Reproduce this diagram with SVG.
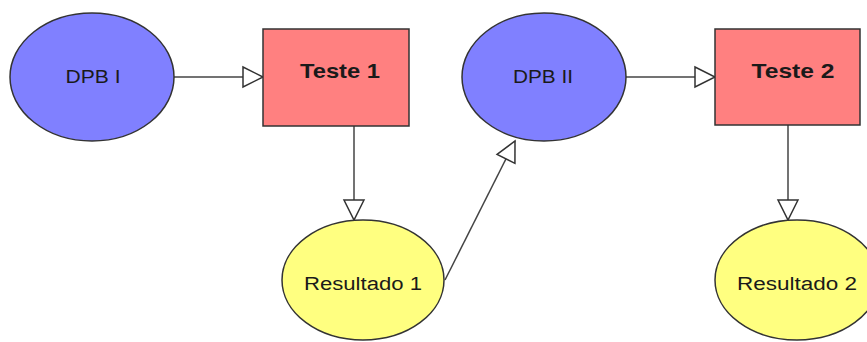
<svg xmlns="http://www.w3.org/2000/svg" width="867" height="342" viewBox="0 0 867 342">
<style>
.ell-blue{fill:#8080ff;stroke:#333;stroke-width:1.5}
.ell-yel{fill:#ffff80;stroke:#333;stroke-width:1.5}
.box{fill:#ff8080;stroke:#333;stroke-width:1.5}
.lbl{font-family:"Liberation Sans",Arial,sans-serif;font-size:18px;fill:#1a1a1a;text-anchor:middle}
.bold{font-weight:bold;font-size:21px}
.edge{stroke:#444;stroke-width:1.5;fill:none;marker-end:url(#tri)}
</style>
<defs>
<marker id="tri" markerUnits="userSpaceOnUse" markerWidth="24" markerHeight="24" viewBox="-2 -2 24 24" refX="20" refY="10" orient="auto">
<path d="M0,0 L20,10 L0,20 Z" fill="#fff" stroke="#333" stroke-width="1.5"/>
</marker>
</defs>
<rect width="867" height="342" fill="#fff"/>
<g id="connectors">
<line class="edge" x1="174" y1="77" x2="263" y2="77"/>
<line class="edge" x1="354" y1="126" x2="354" y2="220"/>
<line class="edge" x1="445" y1="280" x2="515" y2="141"/>
<line class="edge" x1="626" y1="77" x2="715" y2="77"/>
<line class="edge" x1="788" y1="125" x2="788" y2="220"/>
</g>
<g id="dpb1">
<ellipse class="ell-blue" cx="92" cy="77" rx="82" ry="64"/>
<text class="lbl" x="93" y="83" textLength="55" lengthAdjust="spacingAndGlyphs">DPB I</text>
</g>
<g id="teste1">
<rect class="box" x="263" y="29" width="146" height="97"/>
<text class="lbl bold" x="340" y="78" textLength="80" lengthAdjust="spacingAndGlyphs">Teste 1</text>
</g>
<g id="resultado1">
<ellipse class="ell-yel" cx="363" cy="280" rx="81" ry="60"/>
<text class="lbl" x="363" y="290" textLength="118" lengthAdjust="spacingAndGlyphs">Resultado 1</text>
</g>
<g id="dpb2">
<ellipse class="ell-blue" cx="544" cy="77" rx="82" ry="64"/>
<text class="lbl" x="543" y="83" textLength="60" lengthAdjust="spacingAndGlyphs">DPB II</text>
</g>
<g id="teste2">
<rect class="box" x="715" y="29" width="145" height="96"/>
<text class="lbl bold" x="793" y="78" textLength="83" lengthAdjust="spacingAndGlyphs">Teste 2</text>
</g>
<g id="resultado2">
<ellipse class="ell-yel" cx="797" cy="280" rx="82" ry="60"/>
<text class="lbl" x="797" y="290" textLength="120" lengthAdjust="spacingAndGlyphs">Resultado 2</text>
</g>
</svg>
